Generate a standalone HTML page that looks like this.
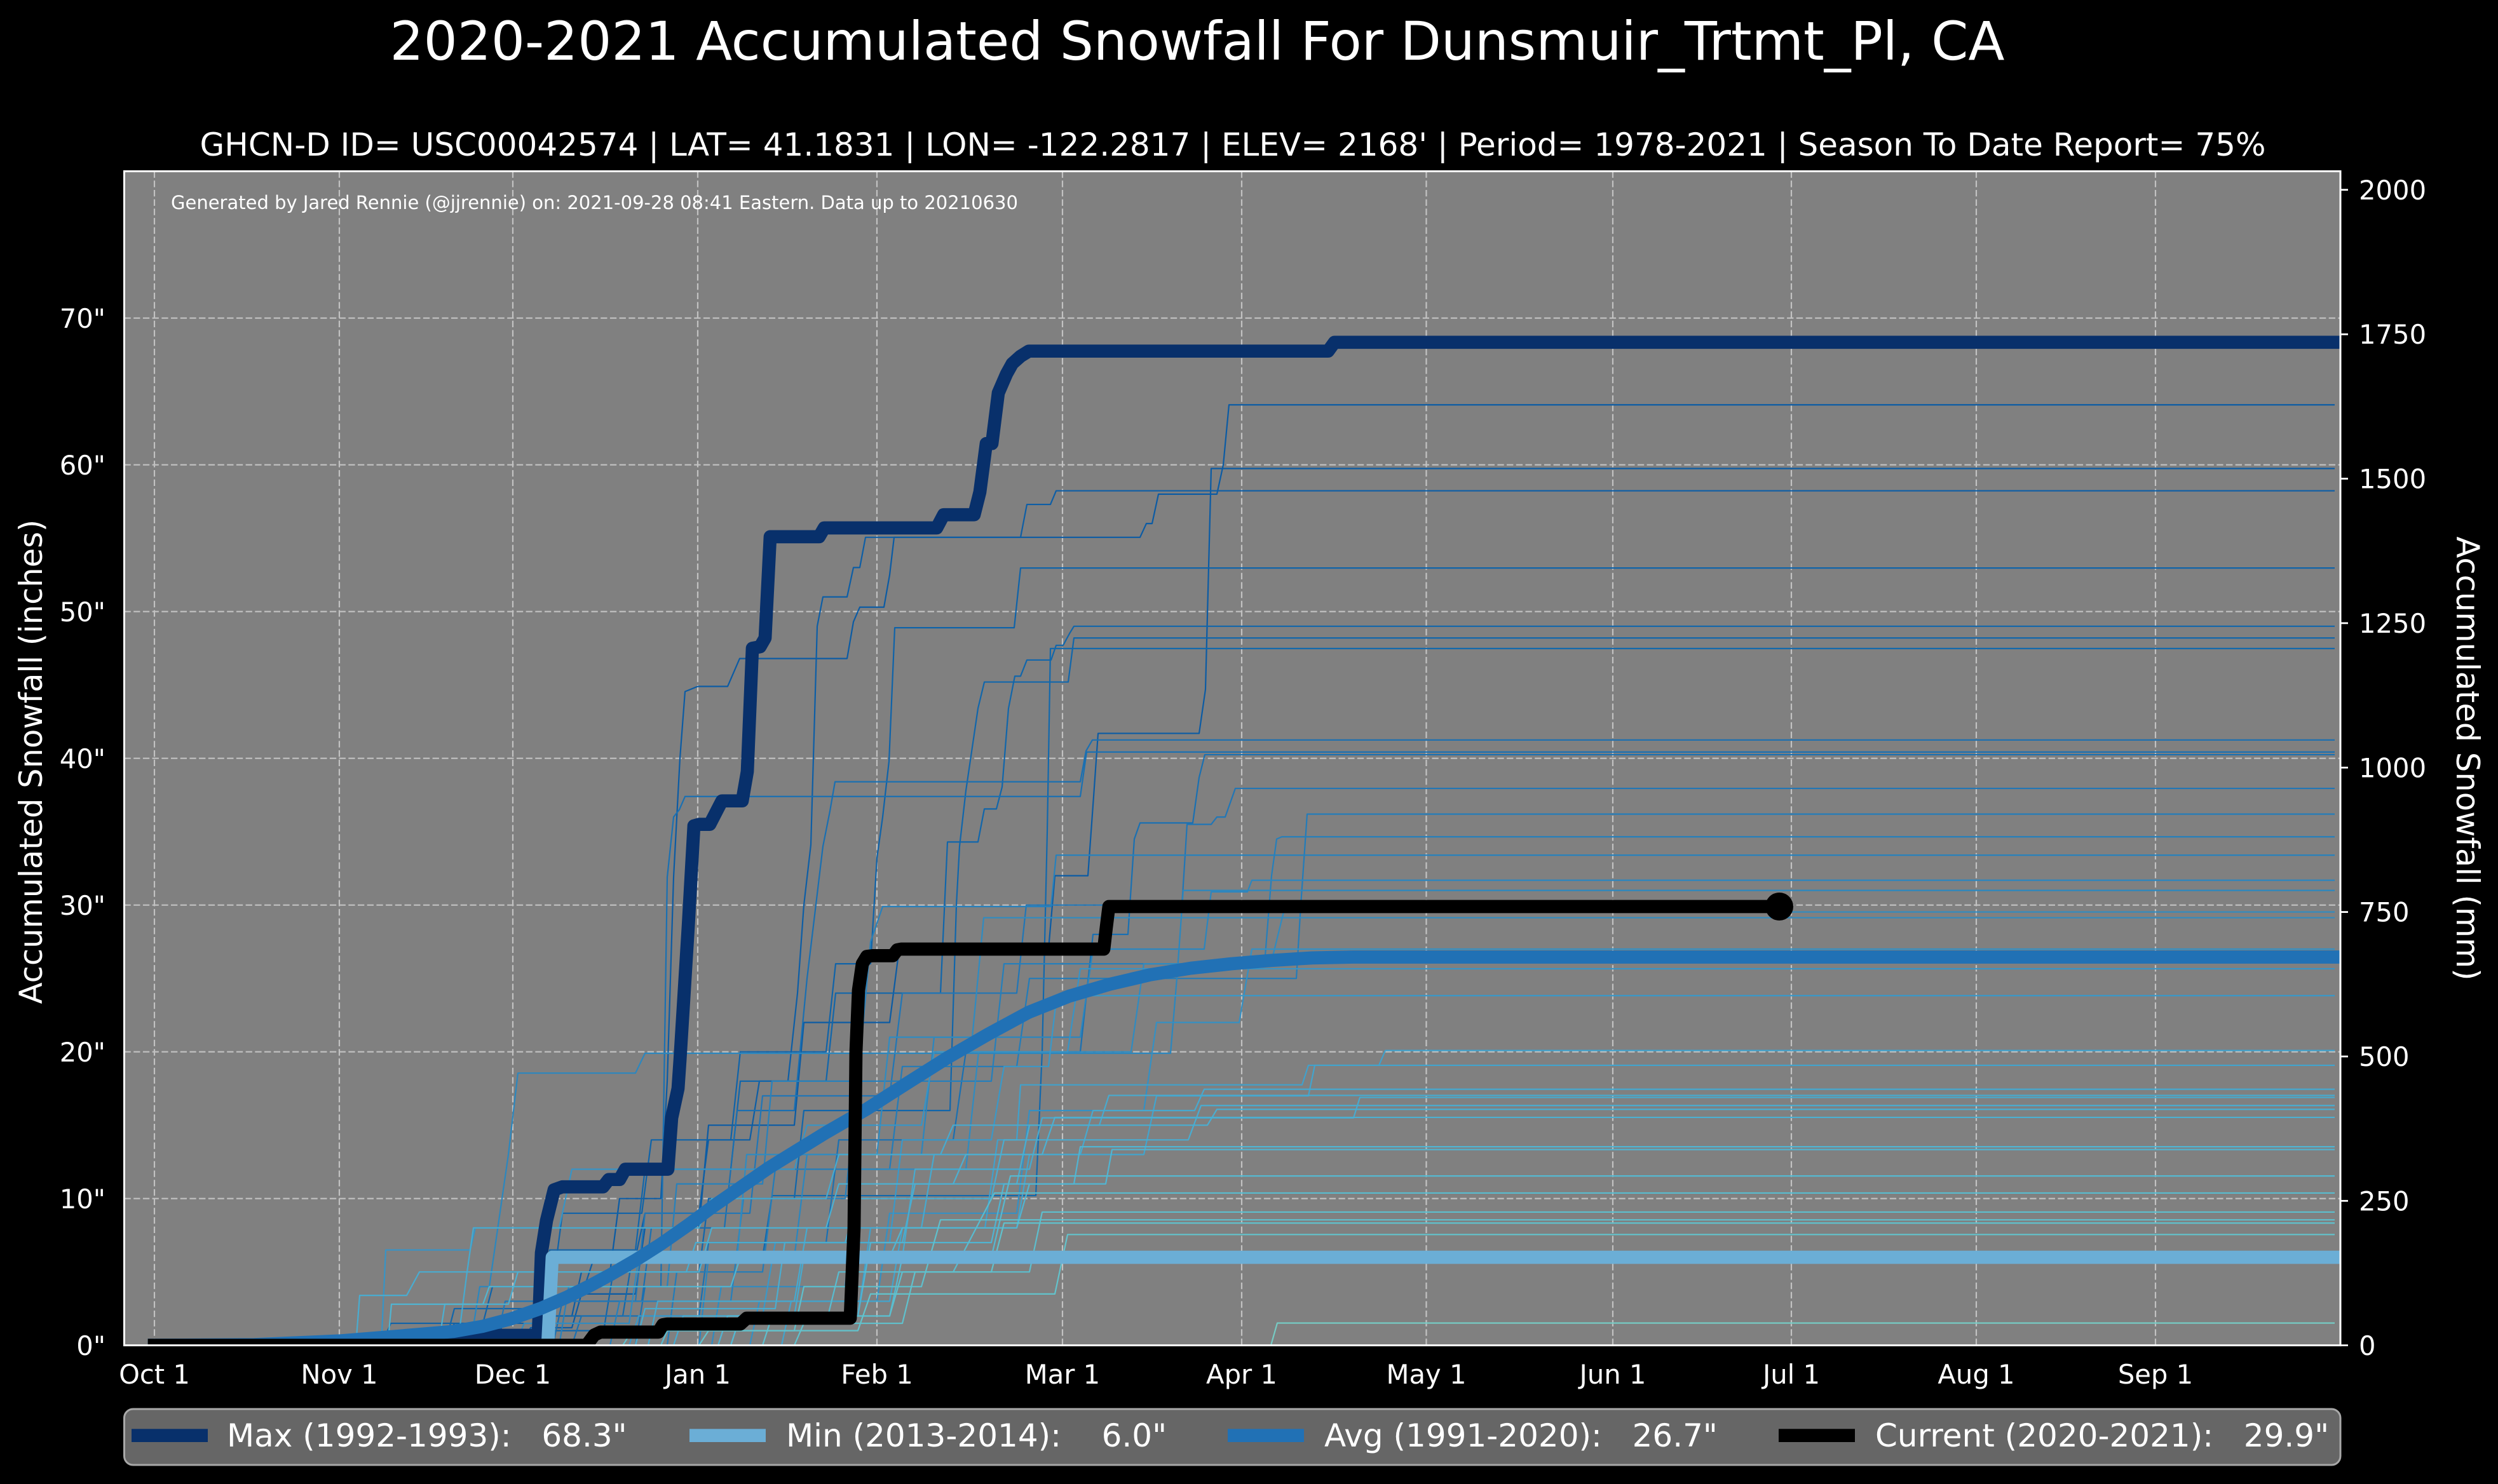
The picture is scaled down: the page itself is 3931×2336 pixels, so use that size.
<!DOCTYPE html>
<html><head><meta charset="utf-8"><style>html,body{margin:0;padding:0;background:#000;}svg{display:block}</style></head>
<body>
<svg width="3931" height="2336" viewBox="0 0 3931 2336" xmlns="http://www.w3.org/2000/svg" font-family="DejaVu Sans, Liberation Sans, sans-serif">
<rect width="3931" height="2336" fill="#000"/>
<defs><clipPath id="c"><rect x="195.5" y="269.6" width="3487.5" height="1848.1"/></clipPath></defs>
<rect x="195.5" y="269.6" width="3487.5" height="1848.1" fill="#808080"/>
<!-- grid -->
<g stroke="#c2c2c2" stroke-width="2.2" stroke-dasharray="10.3 4.4" fill="none">
<line x1="243" y1="269.6" x2="243" y2="2117.7"/><line x1="534" y1="269.6" x2="534" y2="2117.7"/><line x1="807" y1="269.6" x2="807" y2="2117.7"/><line x1="1098" y1="269.6" x2="1098" y2="2117.7"/><line x1="1380" y1="269.6" x2="1380" y2="2117.7"/><line x1="1672" y1="269.6" x2="1672" y2="2117.7"/><line x1="1954" y1="269.6" x2="1954" y2="2117.7"/><line x1="2244.5" y1="269.6" x2="2244.5" y2="2117.7"/><line x1="2538" y1="269.6" x2="2538" y2="2117.7"/><line x1="2819" y1="269.6" x2="2819" y2="2117.7"/><line x1="3110" y1="269.6" x2="3110" y2="2117.7"/><line x1="3392" y1="269.6" x2="3392" y2="2117.7"/>
<line x1="195.5" y1="1886.7" x2="3683" y2="1886.7"/><line x1="195.5" y1="1655.7" x2="3683" y2="1655.7"/><line x1="195.5" y1="1424.7" x2="3683" y2="1424.7"/><line x1="195.5" y1="1193.7" x2="3683" y2="1193.7"/><line x1="195.5" y1="962.7" x2="3683" y2="962.7"/><line x1="195.5" y1="731.7" x2="3683" y2="731.7"/><line x1="195.5" y1="500.7" x2="3683" y2="500.7"/>
</g>
<g clip-path="url(#c)">
<g transform="matrix(1 0 0 -23.1 0 2117.7)" fill="none" stroke-linejoin="round">
<g stroke-width="2.2">
<polyline vector-effect="non-scaling-stroke" stroke="#0b5ba4" points="243,0 780,0 795,2 900,2 915,5 960,5 975,10 1040,10 1050,18 1060,31.9 1070,40 1078,44.55 1098,44.9 1145,44.9 1164,46.8 1333,46.8 1343,49.3 1353,50.3 1391,50.3 1400,52.5 1407,55.06 1794,55.06 1804,56 1813,56 1823,58 1915,58 1925,60 1934,64.09 3674,64.09"/>
<polyline vector-effect="non-scaling-stroke" stroke="#0b5ba4" points="243,0 820,0 835,1.2 900,1.2 915,3.5 1000,3.5 1015,8 1100,8 1115,15 1250,15 1265,22 1400,22 1415,27 1650,27 1660,32 1712,32 1721,37.4 1728,41.7 1887,41.7 1897,44.7 1906,59.75 3674,59.75"/>
<polyline vector-effect="non-scaling-stroke" stroke="#0d5ea6" points="243,0 700,0 715,1.5 860,1.5 875,4 920,4 935,6 1000,6 1015,9 1100,9 1115,14 1180,14 1195,18 1240,18 1255,24 1265,30 1276,34.1 1286,49 1295,51 1333,51 1343,53 1353,53 1362,55.06 1606,55.06 1616,57.3 1653,57.3 1662,58.23 3674,58.23"/>
<polyline vector-effect="non-scaling-stroke" stroke="#0f63a9" points="243,0 600,0 615,1.5 760,1.5 775,4 870,4 885,9 1010,9 1025,14 1150,14 1165,20 1300,20 1315,26 1370,26 1380,33.2 1389,36 1399,39.8 1408,48.9 1596,48.9 1606,52.97 3674,52.97"/>
<polyline vector-effect="non-scaling-stroke" stroke="#1166ab" points="243,0 700,0 715,2.5 850,2.5 865,6.5 1000,6.5 1015,12 1150,12 1165,18 1300,18 1315,24 1480,24 1491,34.3 1539,34.3 1549,36.55 1568,36.55 1577,38.05 1587,43.4 1597,45.6 1606,45.6 1616,46.7 1654,46.7 1662,47.7 1673,47.7 1683,48.5 1690,49 3674,49"/>
<polyline vector-effect="non-scaling-stroke" stroke="#1166ab" points="243,0 760,0 775,1 950,1 965,5 1100,5 1115,10 1250,10 1265,16 1495,16 1505,30 1510,34 1520,37.8 1539,43.4 1549,45.2 1681,45.2 1690,48.2 3674,48.2"/>
<polyline vector-effect="non-scaling-stroke" stroke="#1268ac" points="243,0 830,0 845,2 980,2 995,6 1200,6 1215,10.2 1630,10.2 1640,20 1648,35 1653,47.48 3674,47.48"/>
<polyline vector-effect="non-scaling-stroke" stroke="#1a6fb1" points="243,0 870,0 885,3 1010,3 1025,8 1140,8 1160,16 1250,16 1270,25 1295,34 1306,36.4 1314,38.4 1700,38.4 1709,40.5 1719,41.25 3674,41.25"/>
<polyline vector-effect="non-scaling-stroke" stroke="#1a70b2" points="243,0 1000,0 1015,4 1040,4 1050,31.9 1060,36 1069,36.5 1078,37.4 1700,37.4 1710,40.43 3674,40.43"/>
<polyline vector-effect="non-scaling-stroke" stroke="#1a70b2" points="243,0 900,0 915,2 1100,2 1115,7 1300,7 1320,14 1500,14 1520,20 1700,20 1720,28 1775,28 1785,34.5 1794,35.6 1877,35.6 1887,38.7 1896,40.25 3674,40.25"/>
<polyline vector-effect="non-scaling-stroke" stroke="#2176b6" points="243,0 780,0 795,3 1000,3 1015,9 1180,9 1200,17 1400,17 1420,24 1600,24 1615,30 1860,30 1868,35.5 1906,35.5 1915,36 1928,36 1944,37.95 3674,37.95"/>
<polyline vector-effect="non-scaling-stroke" stroke="#237cb9" points="243,0 1050,0 1065,5 1200,5 1220,12 1400,12 1420,19 1600,19 1620,25 2040,25 2047,30 2057,36.2 3674,36.2"/>
<polyline vector-effect="non-scaling-stroke" stroke="#267fbb" points="243,0 960,0 975,3 1150,3 1170,10 1330,10 1350,18 1560,18 1580,26 1990,26 2001,32 2009,34.5 2017,34.65 3674,34.65"/>
<polyline vector-effect="non-scaling-stroke" stroke="#2781bc" points="243,0 880,0 895,4 1050,4 1065,11 1200,11 1215,18 1350,18 1370,27.5 1389,29.9 1654,29.9 1662,33.4 3674,33.4"/>
<polyline vector-effect="non-scaling-stroke" stroke="#2b86bf" points="243,0 1100,0 1115,6 1250,6 1270,13 1450,13 1470,21 1700,21 1720,27 1895,27 1906,30.9 1963,30.9 1970,31.69 3674,31.69"/>
<polyline vector-effect="non-scaling-stroke" stroke="#2b87bf" points="243,0 740,0 755,4 770,4 790,10 800,13 815,18.55 1000,18.55 1015,19.9 1842,19.9 1852,25 1862,31 3674,31"/>
<polyline vector-effect="non-scaling-stroke" stroke="#2f8bc1" points="243,0 1120,0 1135,4 1330,4 1350,12 1520,12 1540,20 1780,20 1800,26 2000,26 2020,29.53 3674,29.53"/>
<polyline vector-effect="non-scaling-stroke" stroke="#2f8bc1" points="243,0 810,0 825,1.5 990,1.5 1005,6 1160,6 1175,13 1380,13 1400,21 1530,21 1548,29.14 3674,29.14"/>
<polyline vector-effect="non-scaling-stroke" stroke="#3490c4" points="243,0 1180,0 1195,3 1380,3 1400,9 1600,9 1620,16 1800,16 1820,22 1950,22 1970,27 3674,27"/>
<polyline vector-effect="non-scaling-stroke" stroke="#3794c6" points="243,0 600,0 607,6.5 740,6.5 748,8 880,8 900,12 1250,12 1270,15 1450,15 1470,20 1680,20 1700,25.66 3674,25.66"/>
<polyline vector-effect="non-scaling-stroke" stroke="#3a98c8" points="243,0 990,0 1005,2 1200,2 1220,7 1400,7 1420,14 1560,14 1580,19 1650,19 1663,23.83 3674,23.83"/>
<polyline vector-effect="non-scaling-stroke" stroke="#40a1cc" points="243,0 1150,0 1165,2 1350,2 1370,8 1550,8 1570,14 1600,14 1606,17.75 2049,17.75 2059,19.08 2170,19.08 2180,20.09 3674,20.09"/>
<polyline vector-effect="non-scaling-stroke" stroke="#42a4cd" points="243,0 1230,0 1245,3 1400,3 1420,8 1600,8 1620,13 1800,13 1820,17 2059,17 2069,19.08 3674,19.08"/>
<polyline vector-effect="non-scaling-stroke" stroke="#46a9cf" points="243,0 1020,0 1035,3 1250,3 1270,8 1450,8 1470,13 1700,13 1720,16 1880,16 1895,17.45 3674,17.45"/>
<polyline vector-effect="non-scaling-stroke" stroke="#47aacf" points="243,0 720,0 735,5 745,8 1100,8 1120,10 1300,10 1320,13 1480,13 1500,15 1730,15 1745,17.03 3674,17.03"/>
<polyline vector-effect="non-scaling-stroke" stroke="#47aacf" points="243,0 1060,0 1075,2 1250,2 1265,6 1420,6 1440,12 1620,12 1640,15.5 2130,15.5 2140,16.89 3674,16.89"/>
<polyline vector-effect="non-scaling-stroke" stroke="#49acd0" points="243,0 560,0 566,3.4 640,3.4 660,5 1080,5 1095,7 1330,7 1350,10 1560,10 1580,14 1870,14 1890,16.34 3674,16.34"/>
<polyline vector-effect="non-scaling-stroke" stroke="#4aadd0" points="243,0 1000,0 1015,2.5 1220,2.5 1235,7 1420,7 1440,11 1600,11 1620,15 1900,15 1915,16.08 3674,16.08"/>
<polyline vector-effect="non-scaling-stroke" stroke="#4cafd1" points="243,0 690,0 700,2.8 800,2.8 815,5 1100,5 1120,8 1300,8 1320,11 1500,11 1520,13 1640,13 1660,15.53 3674,15.53"/>
<polyline vector-effect="non-scaling-stroke" stroke="#50b4d2" points="243,0 1130,0 1145,2 1350,2 1370,7 1560,7 1580,11 1690,11 1700,13.53 3674,13.53"/>
<polyline vector-effect="non-scaling-stroke" stroke="#50b5d2" points="243,0 610,0 616,2.8 760,2.8 770,4 1150,4 1165,6 1400,6 1420,8 1600,8 1620,11 1740,11 1750,13.34 3674,13.34"/>
<polyline vector-effect="non-scaling-stroke" stroke="#55b9d1" points="243,0 1150,0 1165,2 1400,2 1420,6 1560,6 1590,11.54 3674,11.54"/>
<polyline vector-effect="non-scaling-stroke" stroke="#58bcd0" points="243,0 1040,0 1055,1.5 1300,1.5 1320,5 1500,5 1565,10.38 3674,10.38"/>
<polyline vector-effect="non-scaling-stroke" stroke="#5cbfce" points="243,0 1200,0 1215,2 1400,2 1420,5 1620,5 1640,9.08 3674,9.08"/>
<polyline vector-effect="non-scaling-stroke" stroke="#5ec0cd" points="243,0 980,0 995,1 1250,1 1265,4 1450,4 1480,8.55 3674,8.55"/>
<polyline vector-effect="non-scaling-stroke" stroke="#5fc1cd" points="243,0 1250,0 1265,1.5 1420,1.5 1440,5 1560,5 1580,8.33 3674,8.33"/>
<polyline vector-effect="non-scaling-stroke" stroke="#62c3cc" points="243,0 1100,0 1115,1 1350,1 1370,3.5 1660,3.5 1680,7.55 3674,7.55"/>
<polyline vector-effect="non-scaling-stroke" stroke="#76cbc4" points="243,0 2000,0 2010,1.52 3674,1.52"/>
</g>
<g stroke-width="20.7" stroke-linecap="square">
<polyline vector-effect="non-scaling-stroke" stroke="#08306b" points="243,0 700,0 723,0.68 847,0.68 852,6.3 860,8.5 872,10.6 885,10.8 949,10.8 958,11.3 975,11.3 984,12 1051,12 1057,15.5 1067,17.5 1070,19.4 1083,28.5 1092,35.4 1100,35.5 1117,35.5 1136,37.1 1168,37.1 1176,39.1 1184,47.5 1196,47.6 1204,48.2 1212,55.1 1289,55.1 1297,55.7 1474,55.7 1485,56.6 1533,56.6 1542,58.15 1552,61.45 1561,61.45 1571,64.9 1584,66.2 1593,66.9 1606,67.4 1619,67.75 2090,67.75 2100,68.35 3674,68.35"/>
<polyline vector-effect="non-scaling-stroke" stroke="#6baed6" points="243,0 862,0 869,6 3674,6"/>
<polyline vector-effect="non-scaling-stroke" stroke="#2171b5" points="243,0 400,0.05 534,0.3 620,0.6 714,0.95 760,1.3 804,1.8 850,2.5 893,3.3 930,4.1 960,4.8 1000,5.8 1040,6.9 1083,8.2 1120,9.4 1160,10.6 1210,12.1 1255,13.3 1300,14.5 1364,16.1 1427,17.85 1491,19.6 1555,21.2 1619,22.7 1683,23.8 1746,24.6 1810,25.25 1874,25.7 1938,26 2001,26.23 2065,26.4 2129,26.46 3674,26.46"/>
<polyline vector-effect="non-scaling-stroke" stroke="#000" points="243,0 923,0 935,0.7 945,0.9 1036,0.9 1043,1.4 1050,1.45 1165,1.45 1175,1.85 1338,1.85 1344,8 1347,20 1351,24.2 1357,26 1364,26.5 1373,26.55 1405,26.55 1412,26.95 1418,27 1737,27 1741,28.5 1745,29.9 2800,29.9"/>
</g>
</g>
<circle cx="2800" cy="1427" r="22" fill="#000"/>
</g>
<!-- spines -->
<rect x="195.5" y="269.6" width="3487.5" height="1848.1" fill="none" stroke="#fff" stroke-width="3"/>
<!-- right ticks -->
<g stroke="#fff" stroke-width="2.8">
<line x1="3683" y1="2117.7" x2="3695" y2="2117.7"/><line x1="3683" y1="1890.3" x2="3695" y2="1890.3"/><line x1="3683" y1="1663" x2="3695" y2="1663"/><line x1="3683" y1="1435.6" x2="3695" y2="1435.6"/><line x1="3683" y1="1208.3" x2="3695" y2="1208.3"/><line x1="3683" y1="980.9" x2="3695" y2="980.9"/><line x1="3683" y1="753.5" x2="3695" y2="753.5"/><line x1="3683" y1="526.2" x2="3695" y2="526.2"/><line x1="3683" y1="298.8" x2="3695" y2="298.8"/>
</g>
<g fill="#fff" font-size="41.7">
<text x="3712" y="2133">0</text><text x="3712" y="1905.5">250</text><text x="3712" y="1678">500</text><text x="3712" y="1450.6">750</text><text x="3712" y="1223.3">1000</text><text x="3712" y="996">1250</text><text x="3712" y="768.5">1500</text><text x="3712" y="541.2">1750</text><text x="3712" y="314">2000</text>
</g>
<g fill="#fff" font-size="41.7" text-anchor="end">
<text x="166" y="2133">0"</text><text x="166" y="1902">10"</text><text x="166" y="1671">20"</text><text x="166" y="1440">30"</text><text x="166" y="1209">40"</text><text x="166" y="978">50"</text><text x="166" y="747">60"</text><text x="166" y="516">70"</text>
</g>
<g fill="#fff" font-size="41.7" text-anchor="middle">
<text x="243" y="2178">Oct 1</text><text x="534" y="2178">Nov 1</text><text x="807" y="2178">Dec 1</text><text x="1098" y="2178">Jan 1</text><text x="1380" y="2178">Feb 1</text><text x="1672" y="2178">Mar 1</text><text x="1954" y="2178">Apr 1</text><text x="2244.5" y="2178">May 1</text><text x="2538" y="2178">Jun 1</text><text x="2819" y="2178">Jul 1</text><text x="3110" y="2178">Aug 1</text><text x="3392" y="2178">Sep 1</text>
</g>
<text transform="translate(66,1199) rotate(-90)" fill="#fff" font-size="49.5" text-anchor="middle">Accumulated Snowfall (inches)</text>
<text transform="translate(3866,1194) rotate(90)" fill="#fff" font-size="49.5" text-anchor="middle">Accumulated Snowfall (mm)</text>
<text x="1884" y="94" fill="#fff" font-size="83.5" text-anchor="middle">2020-2021 Accumulated Snowfall For Dunsmuir_Trtmt_Pl, CA</text>
<text x="1940" y="245" fill="#fff" font-size="50" text-anchor="middle">GHCN-D ID= USC00042574 | LAT= 41.1831 | LON= -122.2817 | ELEV= 2168' | Period= 1978-2021 | Season To Date Report= 75%</text>
<text x="269" y="329" fill="#fff" font-size="29">Generated by Jared Rennie (@jjrennie) on: 2021-09-28 08:41 Eastern. Data up to 20210630</text>
<!-- legend -->
<rect x="195.5" y="2218" width="3487.5" height="88" rx="14" ry="14" fill="#666666" stroke="#a8a8a8" stroke-width="3"/>
<rect x="207" y="2249.3" width="120" height="20.7" fill="#08306b"/>
<rect x="1085" y="2249.3" width="120" height="20.7" fill="#6baed6"/>
<rect x="1932" y="2249.3" width="120" height="20.7" fill="#2171b5"/>
<rect x="2799" y="2249.3" width="120" height="20.7" fill="#000"/>
<g fill="#fff" font-size="50" style="white-space:pre">
<text x="357" y="2277" xml:space="preserve">Max (1992-1993):   68.3"</text>
<text x="1237" y="2277" xml:space="preserve">Min (2013-2014):    6.0"</text>
<text x="2084" y="2277" xml:space="preserve">Avg (1991-2020):   26.7"</text>
<text x="2951" y="2277" xml:space="preserve">Current (2020-2021):   29.9"</text>
</g>
</svg>
</body></html>
